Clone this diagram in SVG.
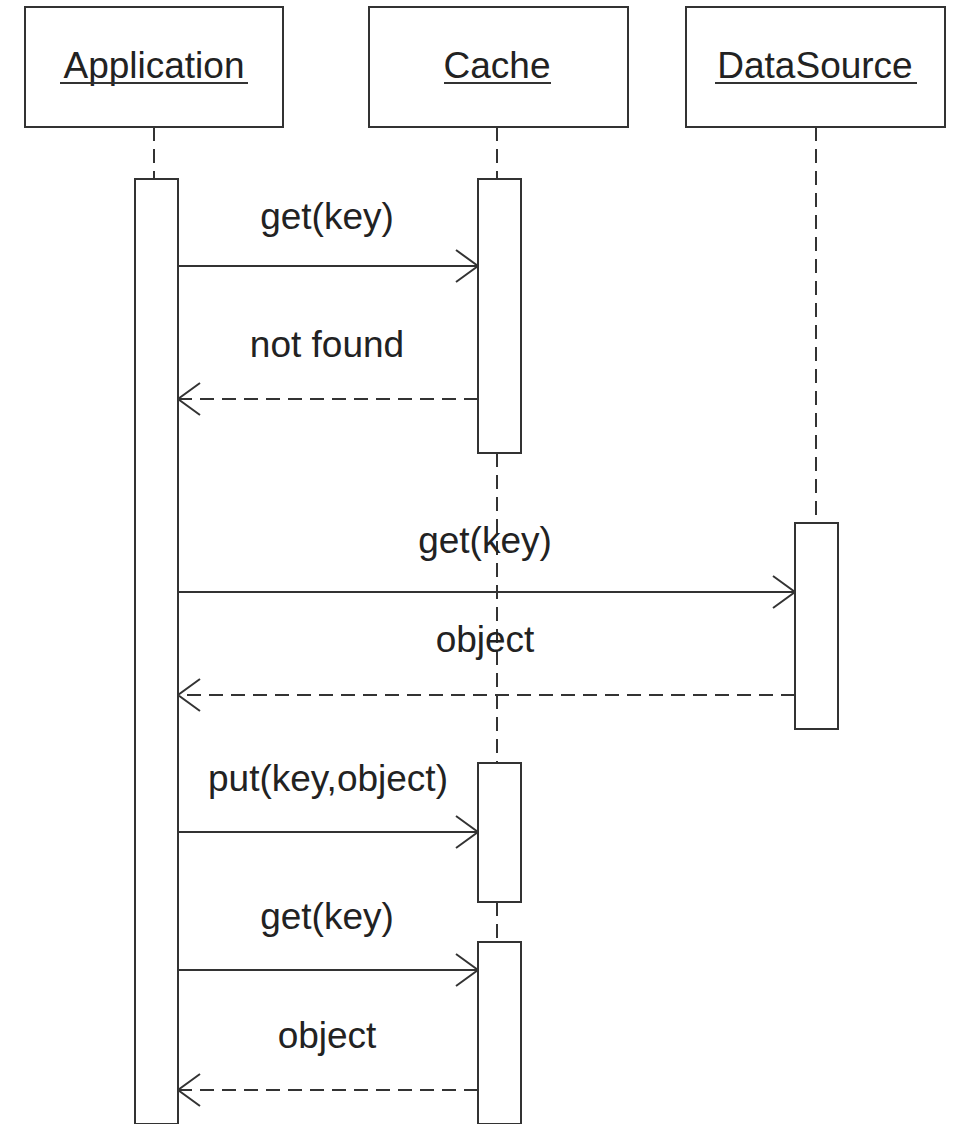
<svg xmlns="http://www.w3.org/2000/svg" width="954" height="1124" viewBox="0 0 954 1124">
<defs>
<style>
.box{fill:#fff;stroke:#333;stroke-width:2}
.act{fill:#fff;stroke:#333;stroke-width:2}
.life{stroke:#333;stroke-width:2;stroke-dasharray:14 8;fill:none}
.msg{stroke:#333;stroke-width:2;fill:none}
.ret{stroke:#333;stroke-width:2;stroke-dasharray:14 8;fill:none}
.t{font-family:"Liberation Sans",Arial,sans-serif;font-size:37px;fill:#222;text-anchor:middle}
.ul{stroke:#333;stroke-width:2}
</style>
<marker id="open" markerUnits="userSpaceOnUse" viewBox="0 0 24 36" refX="23" refY="18" markerWidth="24" markerHeight="36" orient="auto-start-reverse">
<path d="M1,2 L23,18 L1,34" fill="none" stroke="#333" stroke-width="2"/>
</marker>
</defs>
<g id="lifelines">
<line class="life" x1="154" y1="127" x2="154" y2="179"/>
<line class="life" x1="497" y1="127" x2="497" y2="179"/>
<line class="life" x1="497" y1="453" x2="497" y2="763"/>
<line class="life" x1="497" y1="902" x2="497" y2="942"/>
<line class="life" x1="816" y1="127" x2="816" y2="523"/>
</g>
<g id="Application">
<rect class="box" x="25" y="7" width="258" height="120"/>
<text class="t" x="154" y="78">Application</text>
<line class="ul" x1="60" y1="83" x2="248" y2="83"/>
</g>
<g id="Cache">
<rect class="box" x="369" y="7" width="259" height="120"/>
<text class="t" x="497" y="78">Cache</text>
<line class="ul" x1="444" y1="83" x2="551" y2="83"/>
</g>
<g id="DataSource">
<rect class="box" x="686" y="7" width="259" height="120"/>
<text class="t" x="815" y="78">DataSource</text>
<line class="ul" x1="715" y1="83" x2="917" y2="83"/>
</g>
<g id="activations">
<rect id="act-app" class="act" x="135" y="179" width="43" height="945"/>
<rect id="act-cache1" class="act" x="478" y="179" width="43" height="274"/>
<rect id="act-ds" class="act" x="795" y="523" width="43" height="206"/>
<rect id="act-cache2" class="act" x="478" y="763" width="43" height="139"/>
<rect id="act-cache3" class="act" x="478" y="942" width="43" height="182"/>
</g>
<g id="connectors">
<line class="msg" x1="178" y1="266" x2="478" y2="266" marker-end="url(#open)"/>
<line class="ret" x1="478" y1="399" x2="178" y2="399" marker-end="url(#open)"/>
<line class="msg" x1="178" y1="592" x2="795" y2="592" marker-end="url(#open)"/>
<line class="ret" x1="795" y1="695" x2="178" y2="695" marker-end="url(#open)"/>
<line class="msg" x1="178" y1="832" x2="478" y2="832" marker-end="url(#open)"/>
<line class="msg" x1="178" y1="970" x2="478" y2="970" marker-end="url(#open)"/>
<line class="ret" x1="478" y1="1090" x2="178" y2="1090" marker-end="url(#open)"/>
</g>
<g id="labels">
<text class="t" x="327" y="229">get(key)</text>
<text class="t" x="327" y="357">not found</text>
<text class="t" x="485" y="553">get(key)</text>
<text class="t" x="485" y="652">object</text>
<text class="t" x="328" y="791">put(key,object)</text>
<text class="t" x="327" y="929">get(key)</text>
<text class="t" x="327" y="1048">object</text>
</g>
</svg>
